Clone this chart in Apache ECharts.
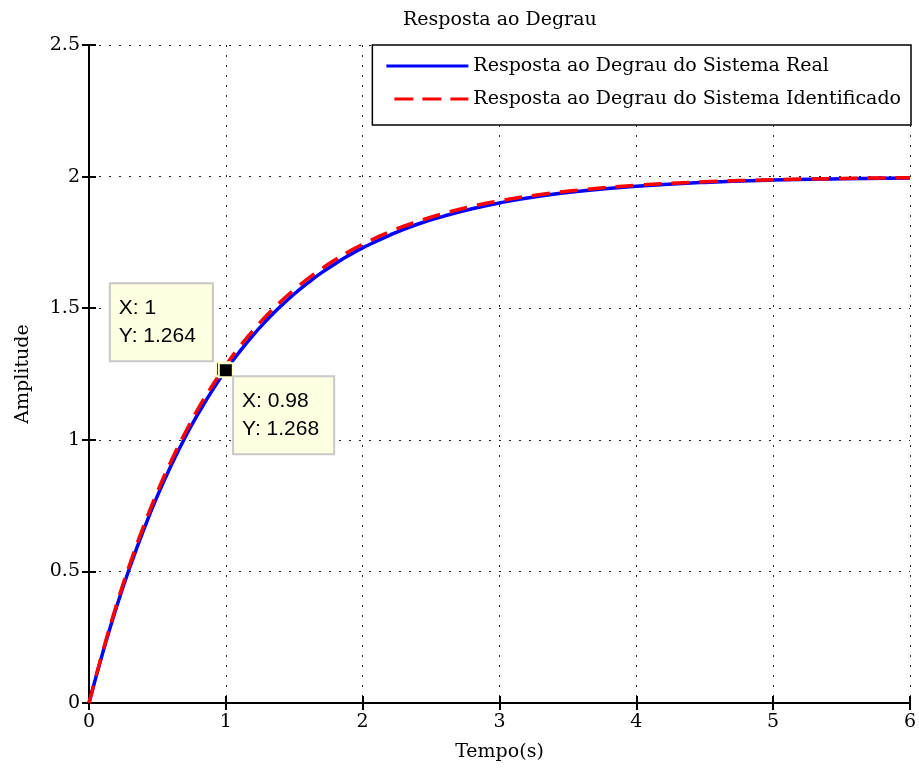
<!DOCTYPE html>
<html>
<head>
<meta charset="utf-8">
<script src="https://cdn.jsdelivr.net/npm/echarts@6/dist/echarts.min.js"></script>
<style>
  html, body { margin: 0; padding: 0; background: #ffffff; }
  #chart { width: 919px; height: 774px; }
</style>
</head>
<body>
<div id="chart"></div>
<script>
// Time samples (s)
const tempo = [0, 0.1, 0.2, 0.3, 0.4, 0.5, 0.6, 0.7, 0.8, 0.9, 1.0, 1.1, 1.2, 1.3, 1.4, 1.5,
  1.6, 1.7, 1.8, 1.9, 2.0, 2.2, 2.4, 2.6, 2.8, 3.0, 3.3, 3.6, 4.0, 4.5, 5.0, 5.5, 6.0];

// Step response of the real system
const respostaReal = [0, 0.190, 0.363, 0.518, 0.659, 0.787, 0.902, 1.007, 1.101, 1.187, 1.264,
  1.334, 1.398, 1.455, 1.507, 1.554, 1.596, 1.635, 1.669, 1.701, 1.729, 1.778, 1.819, 1.851,
  1.878, 1.900, 1.926, 1.945, 1.963, 1.978, 1.987, 1.992, 1.995];

// Step response of the identified model
const respostaIdentificado = [0, 0.195, 0.371, 0.530, 0.673, 0.802, 0.919, 1.024, 1.120, 1.205,
  1.283, 1.353, 1.416, 1.473, 1.524, 1.571, 1.612, 1.650, 1.684, 1.715, 1.743, 1.791, 1.829,
  1.861, 1.887, 1.908, 1.932, 1.950, 1.967, 1.980, 1.988, 1.993, 1.996];

// Data cursors
const cursorReal = [1, 1.264];
const cursorIdent = [0.98, 1.268];

const xTicks = [0, 1, 2, 3, 4, 5, 6];
const yTicks = [0, 0.5, 1, 1.5, 2, 2.5];

const nomes = ['Resposta ao Degrau do Sistema Real', 'Resposta ao Degrau do Sistema Identificado'];

const serif = 'DejaVu Serif';
const fs = 19;

// Legend glyphs: a solid stroke and a dashed stroke (dash pattern drawn as filled bars)
const iconSolid = 'path://M0,0H82V3H0Z';
const iconDashed = 'path://M0,0H0.01V3H0Z M8,0H27V3H8Z M36,0H55V3H36Z M64,0H82V3H64Z';

const pairs = (xs, ys) => xs.map((x, i) => [x, ys[i]]);

const chart = echarts.init(document.getElementById('chart'), null, { renderer: 'canvas' });

const gridLine = { show: true, lineStyle: { color: '#222', width: 1, type: [2, 8] } };
const axisLine = { show: true, lineStyle: { color: '#000', width: 2 } };
const tick = { show: true, inside: true, length: 7, lineStyle: { color: '#000', width: 2 } };

const tipLabel = (text, pos, padRight) => ({
  show: true,
  formatter: text,
  position: pos,
  align: 'left',
  verticalAlign: 'top',
  fontFamily: 'Liberation Sans',
  fontSize: 21,
  lineHeight: 28,
  color: '#000',
  backgroundColor: '#ffffe1',
  borderColor: '#c8c8c8',
  borderWidth: 2,
  padding: [10, padRight, 10, 8]
});

chart.setOption({
  animation: false,
  backgroundColor: '#ffffff',
  title: {
    text: 'Resposta ao Degrau',
    left: 398,
    top: 6,
    textStyle: { fontFamily: serif, fontSize: fs, fontWeight: 'normal', color: '#000' }
  },
  legend: {
    data: [
      { name: nomes[0], icon: iconSolid, itemStyle: { color: '#0000ff' } },
      { name: nomes[1], icon: iconDashed, itemStyle: { color: '#ff0000' } }
    ],
    orient: 'vertical',
    right: 8,
    top: 45,
    backgroundColor: '#ffffff',
    borderColor: '#000',
    borderWidth: 1.5,
    padding: [10, 10, 15, 14],
    itemWidth: 82,
    itemHeight: 3,
    itemGap: 11,
    textStyle: { fontFamily: serif, fontSize: fs, lineHeight: 22, color: '#000' }
  },
  grid: { left: 89, right: 8, top: 45, bottom: 71 },
  xAxis: [
    {
      type: 'value', min: xTicks[0], max: xTicks[xTicks.length - 1], interval: 1,
      name: 'Tempo(s)', nameLocation: 'middle', nameGap: 40,
      nameTextStyle: { fontFamily: serif, fontSize: fs, color: '#000' },
      axisLine, axisTick: tick, splitLine: gridLine,
      axisLabel: { margin: 10, fontFamily: serif, fontSize: fs, color: '#000' }
    },
    {
      type: 'value', position: 'top', min: xTicks[0], max: xTicks[xTicks.length - 1], interval: 1,
      axisLine, axisTick: tick, splitLine: { show: false }, axisLabel: { show: false }
    }
  ],
  yAxis: [
    {
      type: 'value', min: yTicks[0], max: yTicks[yTicks.length - 1], interval: 0.5,
      name: 'Amplitude', nameLocation: 'middle', nameGap: 56,
      nameTextStyle: { fontFamily: serif, fontSize: fs, color: '#000' },
      axisLine, axisTick: tick, splitLine: gridLine,
      axisLabel: { margin: 9, fontFamily: serif, fontSize: fs, color: '#000' }
    },
    {
      type: 'value', position: 'right', min: yTicks[0], max: yTicks[yTicks.length - 1], interval: 0.5,
      axisLine, axisTick: tick, splitLine: { show: false }, axisLabel: { show: false }
    }
  ],
  series: [
    {
      name: nomes[0], type: 'line', data: pairs(tempo, respostaReal),
      smooth: true, symbol: 'none', z: 3,
      lineStyle: { color: '#0000ff', width: 3.5 },
      itemStyle: { color: '#0000ff' }
    },
    {
      name: nomes[1], type: 'line', data: pairs(tempo, respostaIdentificado),
      smooth: true, symbol: 'none', z: 4,
      lineStyle: { color: '#ff0000', width: 3.5, type: [18, 10] },
      itemStyle: { color: '#ff0000' }
    },
    {
      name: 'cursor', type: 'scatter', z: 10,
      symbol: 'rect', symbolSize: 14,
      itemStyle: { color: '#000', opacity: 1, borderColor: '#ffffcc', borderWidth: 2 },
      data: [
        { value: cursorIdent, label: tipLabel('X: ' + cursorIdent[0] + '\nY: ' + cursorIdent[1].toFixed(3), [19, 16], 14) },
        { value: cursorReal, label: tipLabel('X: ' + cursorReal[0] + '\nY: ' + cursorReal[1].toFixed(3), [-107, -78], 16) }
      ]
    }
  ]
});
</script>
</body>
</html>
